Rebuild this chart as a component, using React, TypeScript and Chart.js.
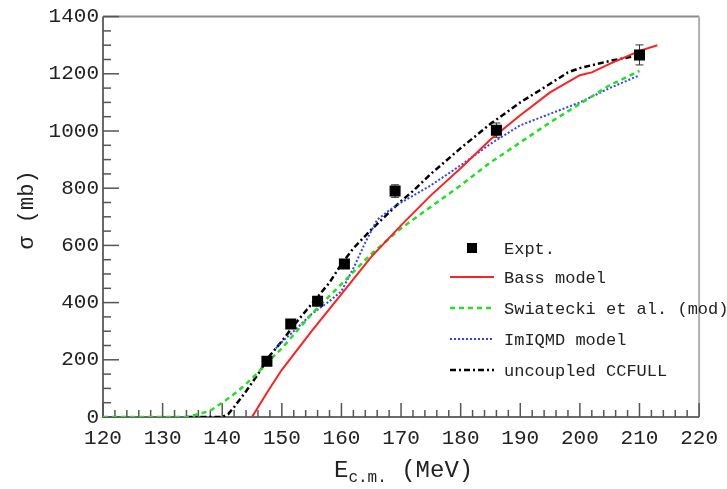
import React, { useEffect, useRef } from "react";
import { Chart, registerables } from "chart.js";

Chart.register(...registerables);

// ---------- data ----------
const exptE = [147.5, 151.5, 156, 160.5, 169, 186, 210];
const exptSigma = [195, 325, 405, 535, 790, 1003, 1266];
const exptErr = [10, 10, 12, 12, 22, 25, 35];

const bassE = [145, 147.5, 150, 155, 160, 165, 170, 175, 180, 185, 190, 195, 200, 202, 205, 210, 213];
const bassSigma = [0, 85, 165, 300, 430, 560, 670, 775, 870, 970, 1055, 1135, 1195, 1205, 1235, 1280, 1300];

const swiE = [120, 134, 136, 138, 140, 142, 144, 146, 148, 150, 155, 160, 165, 170, 175, 180, 185, 190, 195, 200, 205, 210];
const swiSigma = [0, 0, 10, 22, 50, 80, 115, 155, 200, 240, 360, 465, 570, 660, 735, 810, 890, 960, 1030, 1095, 1160, 1210];

const qmdE = [149, 150, 152, 155, 158, 160, 162, 164, 166, 168, 170, 175, 180, 185, 190, 195, 200, 205, 210];
const qmdSigma = [240, 262, 300, 360, 405, 440, 520, 610, 690, 722, 750, 810, 880, 955, 1020, 1060, 1100, 1150, 1195];

const ccE = [134, 140, 141, 142, 144, 146, 148, 150, 152, 155, 158, 160, 162, 165, 168, 170, 172, 175, 180, 185, 190, 195, 198, 200, 205, 210];
const ccSigma = [0, 0, 10, 35, 90, 150, 215, 265, 320, 395, 470, 535, 590, 655, 715, 755, 790, 850, 940, 1025, 1100, 1165, 1205, 1220, 1245, 1265];

const xTickLabels = ["120", "130", "140", "150", "160", "170", "180", "190", "200", "210", "220"];
const yTickLabels = ["0", "200", "400", "600", "800", "1000", "1200", "1400"];

const legendLabels = ["Expt.", "Bass model", "Swiatecki et al. (mod)", "ImIQMD model", "uncoupled CCFULL"];

const MONO = "'Liberation Mono', 'DejaVu Sans Mono', monospace";

const pts = (xs: number[], ys: number[]) => xs.map((x, i) => ({ x, y: ys[i] }));

export default function App() {
  const ref = useRef<HTMLCanvasElement | null>(null);

  useEffect(() => {
    const canvas = ref.current;
    if (!canvas) return;

    const lineStyles = [
      { color: "#ff2020", dash: [] as number[], width: 2 },
      { color: "#22e022", dash: [5, 4], width: 2.5 },
      { color: "#3040ff", dash: [2, 2], width: 2 },
      { color: "#000000", dash: [6, 3, 2, 3], width: 2.5 },
    ];

    const framePlugin = {
      id: "frame",
      beforeDatasetsDraw(chart: any) {
        const { ctx, chartArea: a, scales } = chart;
        const xs = scales.x;
        const ys = scales.y;
        ctx.save();
        // error bars
        ctx.strokeStyle = "#333";
        ctx.lineWidth = 1;
        exptE.forEach((e, i) => {
          const px = xs.getPixelForValue(e);
          const p1 = ys.getPixelForValue(exptSigma[i] - exptErr[i]);
          const p2 = ys.getPixelForValue(exptSigma[i] + exptErr[i]);
          ctx.beginPath();
          ctx.moveTo(px, p1);
          ctx.lineTo(px, p2);
          ctx.moveTo(px - 4, p1);
          ctx.lineTo(px + 4, p1);
          ctx.moveTo(px - 4, p2);
          ctx.lineTo(px + 4, p2);
          ctx.stroke();
        });
        // border
        ctx.lineWidth = 2;
        ctx.strokeStyle = "#8a8a8a";
        ctx.beginPath();
        ctx.moveTo(a.left, a.top);
        ctx.lineTo(a.right, a.top);
        ctx.stroke();
        ctx.strokeStyle = "#b0b0b0";
        ctx.beginPath();
        ctx.moveTo(a.right, a.top);
        ctx.lineTo(a.right, a.bottom);
        ctx.stroke();
        ctx.strokeStyle = "#6a6a6a";
        ctx.beginPath();
        ctx.moveTo(a.left, a.top);
        ctx.lineTo(a.left, a.bottom);
        ctx.lineTo(a.right, a.bottom);
        ctx.stroke();
        // inward ticks
        ctx.lineWidth = 1.5;
        ctx.strokeStyle = "#555";
        for (let v = 120; v <= 220; v += 2) {
          const px = xs.getPixelForValue(v);
          const major = v % 10 === 0;
          ctx.beginPath();
          ctx.moveTo(px, a.bottom);
          ctx.lineTo(px, a.bottom - (major ? 14 : 7));
          ctx.stroke();
        }
        for (let v = 0; v <= 1400; v += 50) {
          const py = ys.getPixelForValue(v);
          const major = v % 200 === 0;
          ctx.beginPath();
          ctx.moveTo(a.left, py);
          ctx.lineTo(a.left + (major ? 16 : 8), py);
          ctx.stroke();
        }
        ctx.restore();
      },
      afterDraw(chart: any) {
        const { ctx, chartArea: a } = chart;
        ctx.save();
        ctx.fillStyle = "#222";
        // x title
        ctx.textBaseline = "alphabetic";
        ctx.textAlign = "left";
        let x = 334;
        const yb = 477;
        ctx.font = `24px ${MONO}`;
        ctx.fillText("E", x, yb);
        x += ctx.measureText("E").width;
        ctx.font = `16px ${MONO}`;
        ctx.fillText("c.m.", x, yb + 5);
        x += ctx.measureText("c.m.").width;
        ctx.font = `24px ${MONO}`;
        ctx.fillText(" (MeV)", x, yb);
        // y title
        ctx.save();
        ctx.translate(27, 210);
        ctx.rotate(-Math.PI / 2);
        ctx.textAlign = "center";
        ctx.textBaseline = "middle";
        ctx.font = `22px ${MONO}`;
        ctx.fillText("\u03c3 (mb)", 0, 0);
        ctx.restore();
        // legend
        const lx0 = a.left + 347;
        const lx1 = lx0 + 44;
        const tx = lx0 + 54;
        const rows = [248, 277, 308, 339, 370];
        ctx.font = `17px ${MONO}`;
        ctx.textAlign = "left";
        ctx.textBaseline = "middle";
        rows.forEach((ry, i) => {
          if (i === 0) {
            ctx.fillStyle = "#000";
            ctx.fillRect((lx0 + lx1) / 2 - 5, ry - 5, 10, 10);
          } else {
            const s = lineStyles[i - 1];
            ctx.strokeStyle = s.color;
            ctx.lineWidth = s.width;
            ctx.setLineDash(s.dash);
            ctx.beginPath();
            ctx.moveTo(lx0, ry);
            ctx.lineTo(lx1, ry);
            ctx.stroke();
            ctx.setLineDash([]);
          }
          ctx.fillStyle = "#222";
          ctx.fillText(legendLabels[i], tx, ry + 1);
        });
        ctx.restore();
      },
    };

    const mkLine = (label: string, xs: number[], ys: number[], k: number) => ({
      type: "line" as const,
      label,
      data: pts(xs, ys),
      borderColor: lineStyles[k].color,
      borderWidth: lineStyles[k].width,
      borderDash: lineStyles[k].dash,
      pointRadius: 0,
      fill: false,
      tension: 0,
      order: 2,
    });

    const chart = new Chart(canvas, {
      type: "line",
      data: {
        datasets: [
          {
            type: "scatter",
            label: legendLabels[0],
            data: pts(exptE, exptSigma),
            pointStyle: "rect",
            pointRadius: 7.8,
            backgroundColor: "#000",
            borderColor: "#000",
            borderWidth: 0,
            showLine: false,
            order: 0,
          } as any,
          mkLine(legendLabels[1], bassE, bassSigma, 0),
          mkLine(legendLabels[2], swiE, swiSigma, 1),
          mkLine(legendLabels[3], qmdE, qmdSigma, 2),
          mkLine(legendLabels[4], ccE, ccSigma, 3),
        ],
      },
      options: {
        animation: false,
        responsive: false,
        maintainAspectRatio: false,
        layout: { padding: { left: 0, top: 12, right: 25, bottom: 0 } },
        plugins: { legend: { display: false }, tooltip: { enabled: false } },
        scales: {
          x: {
            type: "linear",
            min: 120,
            max: 220,
            grid: { display: false, drawTicks: false },
            border: { display: false },
            ticks: {
              stepSize: 10,
              autoSkip: false,
              maxRotation: 0,
              padding: 9,
              color: "#222",
              font: { family: MONO, size: 21 },
              callback: (v: any) => {
                const i = Math.round((Number(v) - 120) / 10);
                return xTickLabels[i] ?? "";
              },
            },
            afterFit: (s: any) => {
              s.height = 72;
            },
          },
          y: {
            min: 0,
            max: 1400,
            grid: { display: false, drawTicks: false },
            border: { display: false },
            ticks: {
              stepSize: 200,
              padding: 4,
              color: "#222",
              font: { family: MONO, size: 21 },
              callback: (v: any) => {
                const i = Math.round(Number(v) / 200);
                return yTickLabels[i] ?? "";
              },
            },
            afterFit: (s: any) => {
              s.width = 103;
            },
          },
        },
      },
      plugins: [framePlugin],
    });

    return () => chart.destroy();
  }, []);

  return (
    <div style={{ position: "fixed", left: 0, top: 0, width: 727, height: 489, background: "#fff" }}>
      <canvas ref={ref} width={727} height={489} style={{ display: "block", width: 727, height: 489 }} />
    </div>
  );
}
